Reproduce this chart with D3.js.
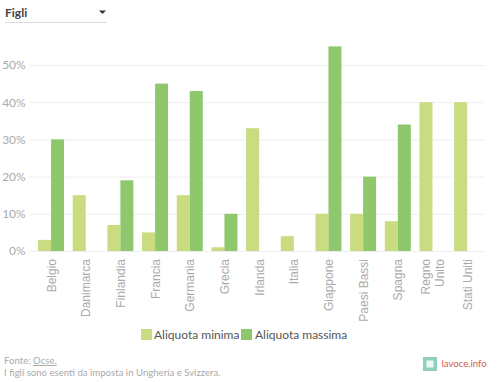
<!DOCTYPE html>
<html>
<head>
<meta charset="utf-8">
<script src="https://cdn.jsdelivr.net/npm/d3@7"></script>
<style>
    html, body { margin: 0; padding: 0; background: #fff; }
    svg { display: block; font-family: "Lato", "Open Sans", sans-serif; }
</style>
</head>
<body>
<div id="chart"></div>
<script>
const categories = ["Belgio", "Danimarca", "Finlandia", "Francia", "Germania", "Grecia", "Irlanda", "Italia", "Giappone", "Paesi Bassi", "Spagna", "Regno Unito", "Stati Uniti"];
const aliquotaMinima = [3, 15, 7, 5, 15, 1, 33, 4, 10, 10, 8, 40, 40];
const aliquotaMassima = [30, 0, 19, 45, 43, 10, 0, 0, 55, 20, 34, 0, 0];
const yTicks = [0, 10, 20, 30, 40, 50];
const seriesNames = ["Aliquota minima", "Aliquota massima"];
const seriesColors = ["#c9dc7f", "#8fc76d"];

const width = 500, height = 382;
const margin = { top: 28, right: 15.5, bottom: 131, left: 33.7 };
const innerW = width - margin.left - margin.right;
const innerH = height - margin.top - margin.bottom;

const svg = d3.select("#chart").append("svg")
    .attr("width", width)
    .attr("height", height);

// dropdown
svg.append("text").attr("x", 5).attr("y", 17)
    .attr("font-size", 12).attr("font-weight", 700).attr("fill", "#444").text("Figli");
svg.append("path").attr("d", "M99,10.5h7l-3.5,3.5z").attr("fill", "#333");
svg.append("line").attr("x1", 5).attr("x2", 107).attr("y1", 22.5).attr("y2", 22.5)
    .attr("stroke", "#ddd").attr("stroke-width", 1);

const g = svg.append("g").attr("transform", `translate(${margin.left},${margin.top})`);

const x = d3.scaleBand().domain(categories).range([0, innerW]).paddingInner(0.25).paddingOuter(0.125);
const xSub = d3.scaleBand().domain(seriesNames).range([0, x.bandwidth()]);
const y = d3.scaleLinear().domain([0, 60]).range([innerH, innerH - 223.2]);

// grid and y labels
const yAxis = g.append("g").call(d3.axisLeft(y).tickValues(yTicks).tickFormat(d => d + "%").tickSize(0).tickPadding(8));
yAxis.select(".domain").remove();
yAxis.selectAll("text").attr("font-size", 12).attr("font-family", "Lato").attr("fill", "#aaa");
yAxis.selectAll("line")
    .attr("x1", -4).attr("x2", innerW)
    .attr("stroke", "#eee");

// bars
const series = [aliquotaMinima, aliquotaMassima];
series.forEach((vals, s) => {
    g.append("g").selectAll("rect").data(vals).join("rect")
        .attr("x", (d, i) => x(categories[i]) + xSub(seriesNames[s]))
        .attr("width", xSub.bandwidth())
        .attr("y", d => y(d))
        .attr("height", d => y(0) - y(d))
        .attr("fill", seriesColors[s]);
});

// x labels, rotated
const xAxis = g.append("g").attr("transform", `translate(0,${innerH})`).call(d3.axisBottom(x).tickSize(0).tickFormat(""));
xAxis.select(".domain").remove();
xAxis.selectAll(".tick").each(function (d) {
    const parts = d === "Regno Unito" ? ["Regno", "Unito"] : [d];
    const t = d3.select(this);
    parts.forEach((p, i) => {
        t.append("text")
            .attr("transform", `translate(${(i - (parts.length - 1) / 2) * 14 + 4.5},8) rotate(-90)`)
            .attr("text-anchor", "end")
            .attr("font-size", 12)
            .attr("fill", "#aaa")
            .text(p);
    });
});

// legend
const legend = svg.append("g");
legend.append("rect").attr("x", 141).attr("y", 329).attr("width", 11).attr("height", 11).attr("fill", seriesColors[0]);
legend.append("text").attr("x", 154).attr("y", 339).attr("font-size", 12).attr("fill", "#555").text(seriesNames[0]);
legend.append("rect").attr("x", 241).attr("y", 329).attr("width", 11).attr("height", 11).attr("fill", seriesColors[1]);
legend.append("text").attr("x", 255).attr("y", 339).attr("font-size", 12).attr("fill", "#555").text(seriesNames[1]);

// footer
const fonte = svg.append("text").attr("x", 4).attr("y", 364).attr("font-size", 9.6).attr("fill", "#aaa");
fonte.append("tspan").text("Fonte: ");
fonte.append("tspan").attr("text-decoration", "underline").text("Ocse.");
svg.append("text").attr("x", 4).attr("y", 375.5).attr("font-size", 9.6).attr("fill", "#aaa")
    .text("I figli sono esenti da imposta in Ungheria e Svizzera.");

// lavoce logo
svg.append("rect").attr("x", 423).attr("y", 357).attr("width", 14).attr("height", 14).attr("fill", "#8fd0c0");
svg.append("rect").attr("x", 426.5).attr("y", 360.5).attr("width", 7).attr("height", 7).attr("fill", "#eef8f5");
svg.append("text").attr("x", 441.5).attr("y", 366.5).attr("font-size", 9.6).attr("fill", "#d0604a").text("lavoce.info");
</script>
</body>
</html>
